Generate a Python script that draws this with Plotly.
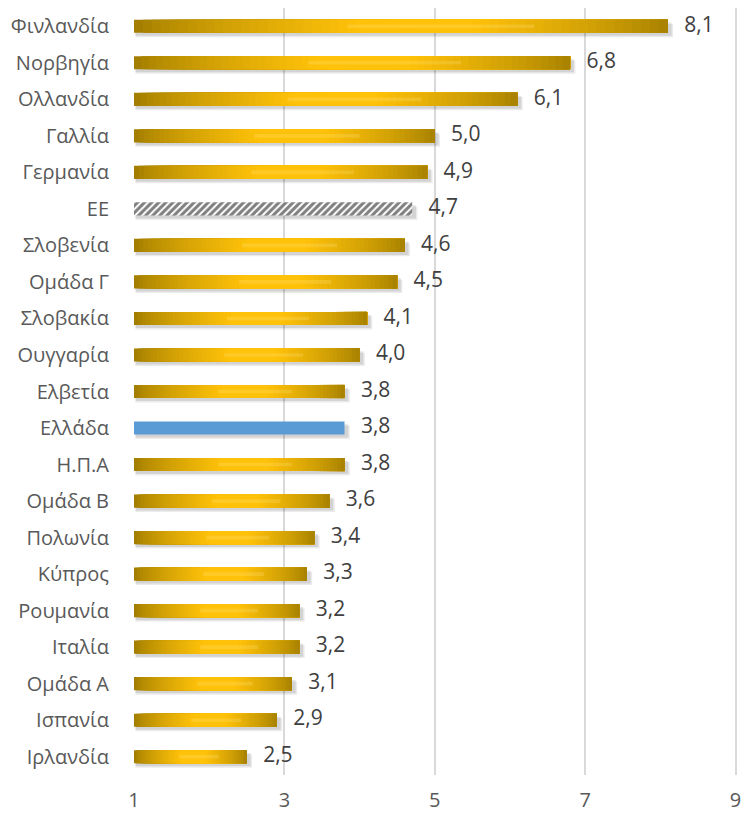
import plotly.graph_objects as go

countries = ["Φινλανδία", "Νορβηγία", "Ολλανδία", "Γαλλία", "Γερμανία", "ΕΕ", "Σλοβενία",
             "Ομάδα Γ", "Σλοβακία", "Ουγγαρία", "Ελβετία", "Ελλάδα", "Η.Π.Α", "Ομάδα Β",
             "Πολωνία", "Κύπρος", "Ρουμανία", "Ιταλία", "Ομάδα Α", "Ισπανία", "Ιρλανδία"]
values = [8.1, 6.8, 6.1, 5.0, 4.9, 4.7, 4.6, 4.5, 4.1, 4.0, 3.8, 3.8, 3.8, 3.6,
          3.4, 3.3, 3.2, 3.2, 3.1, 2.9, 2.5]
x_ticks = [1, 3, 5, 7, 9]

AXIS_MIN = 1
BAR_W = 0.36
FONT = "Open Sans"

gold_idx = [i for i, c in enumerate(countries) if c not in ("ΕΕ", "Ελλάδα")]
eu_idx = [countries.index("ΕΕ")]
gr_idx = [countries.index("Ελλάδα")]

fig = go.Figure()

# soft shadows (two layers)
for dx, dy, a in [(0.05, 0.12, 0.08), (0.03, 0.08, 0.10)]:
    fig.add_trace(go.Bar(
        y=countries, x=[v - AXIS_MIN + dx for v in values], base=[AXIS_MIN + 0.02] * len(values),
        orientation="h", width=BAR_W, offset=-BAR_W / 2 + dy,
        marker=dict(color="rgba(0,0,0,%.2f)" % a, line=dict(width=0)),
        hoverinfo="skip", showlegend=False))

# gold gradient bars: overlapping segments, each running to the bar end
dark = (157, 122, 0)
bright = (255, 194, 10)
N = 60
def shade(t):
    if t < 0.42:
        k = t / 0.42
    elif t < 0.64:
        k = 1.0
    else:
        k = max(0.0, 1 - (t - 0.64) / 0.36) * 0.95 + 0.03
    k = k ** 0.7
    return "rgb(%d,%d,%d)" % tuple(int(d + (b - d) * k) for d, b in zip(dark, bright))

for s in range(N):
    ys = [countries[i] for i in gold_idx]
    bases = [AXIS_MIN + (values[i] - AXIS_MIN) * s / N for i in gold_idx]
    lengths = [values[i] - b for i, b in zip(gold_idx, bases)]
    fig.add_trace(go.Bar(
        y=ys, x=lengths, base=bases, orientation="h", width=BAR_W,
        marker=dict(color=shade((s + 0.5) / N), line=dict(width=0)),
        hoverinfo="skip", showlegend=False))

# soft highlight band in the middle of gold bars
fig.add_trace(go.Bar(
    y=[countries[i] for i in gold_idx],
    x=[(values[i] - AXIS_MIN) * 0.35 for i in gold_idx],
    base=[AXIS_MIN + (values[i] - AXIS_MIN) * 0.40 for i in gold_idx],
    orientation="h", width=0.1,
    marker=dict(color="rgba(255,230,140,0.22)", line=dict(width=0)),
    hoverinfo="skip", showlegend=False))

# EU hatched bar
fig.add_trace(go.Bar(
    y=[countries[i] for i in eu_idx], x=[values[i] - AXIS_MIN for i in eu_idx],
    base=[AXIS_MIN] * len(eu_idx), orientation="h", width=BAR_W,
    marker=dict(color="white", line=dict(width=0),
                pattern=dict(shape="/", fgcolor="black", bgcolor="white", size=5, solidity=0.6)),
    hoverinfo="skip", showlegend=False))

# Greece blue bar
fig.add_trace(go.Bar(
    y=[countries[i] for i in gr_idx], x=[values[i] - AXIS_MIN for i in gr_idx],
    base=[AXIS_MIN] * len(gr_idx), orientation="h", width=BAR_W,
    marker=dict(color="#5B9BD5", line=dict(width=0)),
    hoverinfo="skip", showlegend=False))

# value labels
fig.add_trace(go.Scatter(
    y=countries, x=values, mode="text",
    text=["   " + f"{v:.1f}".replace(".", ",") for v in values],
    textposition="middle right",
    textfont=dict(family=FONT, size=21, color="#404040"),
    hoverinfo="skip", showlegend=False, cliponaxis=False))

fig.update_layout(
    width=742, height=813,
    margin=dict(l=134, r=5, t=8, b=38),
    paper_bgcolor="white", plot_bgcolor="white",
    barmode="overlay",
    font=dict(family=FONT, size=20, color="#595959"),
    xaxis=dict(range=[1, 9.02], tickvals=x_ticks, ticktext=[str(t) for t in x_ticks],
               showgrid=True, gridcolor="#D9D9D9", gridwidth=2, zeroline=False,
               ticks="outside", ticklen=7, tickcolor="rgba(0,0,0,0)",
               ticklabeloverflow="allow",
               showline=False, fixedrange=True, automargin=False),
    yaxis=dict(categoryorder="array", categoryarray=countries,
               showgrid=False, zeroline=False, showline=False,
               ticks="outside", ticklen=20, tickcolor="rgba(0,0,0,0)",
               range=[len(countries) - 0.5, -0.5], automargin=False),
)

# remove the default page margin so the figure fills the window exactly
fig.write_html("out.html", config={"displayModeBar": False},
               post_script="document.body.style.margin='0';document.body.style.overflow='hidden';")
